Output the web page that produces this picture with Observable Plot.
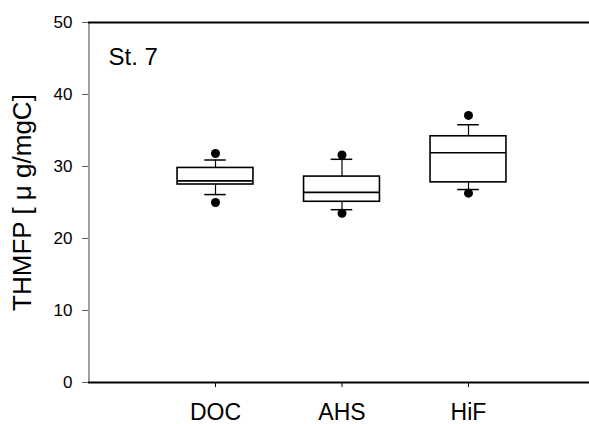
<!DOCTYPE html>
<html>
<head>
<meta charset="utf-8">
<script src="https://cdn.jsdelivr.net/npm/d3@7"></script>
<script src="https://cdn.jsdelivr.net/npm/@observablehq/plot@0.6"></script>
<style>
  html, body { margin: 0; padding: 0; background: white; }
</style>
</head>
<body>
<div id="chart"></div>
<script>
const categories = ["DOC", "AHS", "HiF"];
const outlierHigh = [31.8, 31.6, 37.1];
const whiskerHigh = [30.9, 31.0, 35.8];
const q3 = [29.8, 28.6, 34.2];
const median = [28.0, 26.4, 31.9];
const q1 = [27.5, 25.1, 27.8];
const whiskerLow = [26.1, 24.0, 26.8];
const outlierLow = [25.0, 23.5, 26.3];
const yTicks = [0, 10, 20, 30, 40, 50];
const yLabel = "THMFP [ \u03bc g/mgC]";
const panelLabel = "St. 7";

const table = categories.map((c, i) => ({
  name: c, x: i + 1,
  oh: outlierHigh[i], wh: whiskerHigh[i], q3: q3[i], med: median[i],
  q1: q1[i], wl: whiskerLow[i], ol: outlierLow[i]
}));

const bw = 0.3, cw = 0.085;

const chart = Plot.plot({
  width: 589,
  height: 424,
  marginLeft: 88,
  marginRight: 0,
  marginTop: 22,
  marginBottom: 42,
  style: { fontFamily: "'Liberation Sans', Arial, sans-serif", background: "white", color: "black" },
  x: { domain: [0, 4], range: [88.5, 594.5], axis: null },
  y: { domain: [0, 50], axis: null },
  marks: [
    Plot.ruleX([0], { stroke: "#808080", strokeWidth: 1.5 }),
    Plot.ruleY([0, 50], { stroke: "black", strokeWidth: 2 }),
    Plot.axisY({ ticks: yTicks, tickSize: 6, tickPadding: 10, fontSize: 17, label: null, stroke: "#555" }),
    Plot.axisX({ ticks: [1, 2, 3], tickFormat: d => categories[d - 1], tickSize: 5, tickPadding: 16, fontSize: 23, label: null }),
    // whiskers
    Plot.ruleX(table, { x: "x", y1: "q3", y2: "wh", stroke: "black", strokeWidth: 1.2 }),
    Plot.ruleX(table, { x: "x", y1: "q1", y2: "wl", stroke: "black", strokeWidth: 1.2 }),
    Plot.ruleY(table, { y: "wh", x1: d => d.x - cw, x2: d => d.x + cw, stroke: "black", strokeWidth: 1.5 }),
    Plot.ruleY(table, { y: "wl", x1: d => d.x - cw, x2: d => d.x + cw, stroke: "black", strokeWidth: 1.5 }),
    // boxes
    Plot.rect(table, { x1: d => d.x - bw, x2: d => d.x + bw, y1: "q1", y2: "q3", fill: "white", stroke: "black", strokeWidth: 1.6 }),
    Plot.ruleY(table, { y: "med", x1: d => d.x - bw, x2: d => d.x + bw, stroke: "black", strokeWidth: 1.6 }),
    // outliers
    Plot.dot(table, { x: "x", y: "oh", r: 4.5, fill: "black", stroke: "none" }),
    Plot.dot(table, { x: "x", y: "ol", r: 4.5, fill: "black", stroke: "none" }),
    // texts
    Plot.text([panelLabel], { frameAnchor: "top-left", dx: 20, dy: 25, textAnchor: "start", lineAnchor: "top", fontSize: 24, fill: "black" }),
    Plot.text([yLabel], { frameAnchor: "left", dx: -66, rotate: -90, textAnchor: "middle", lineAnchor: "middle", fontSize: 26, fill: "black" })
  ]
});
document.getElementById("chart").appendChild(chart);
</script>
</body>
</html>
